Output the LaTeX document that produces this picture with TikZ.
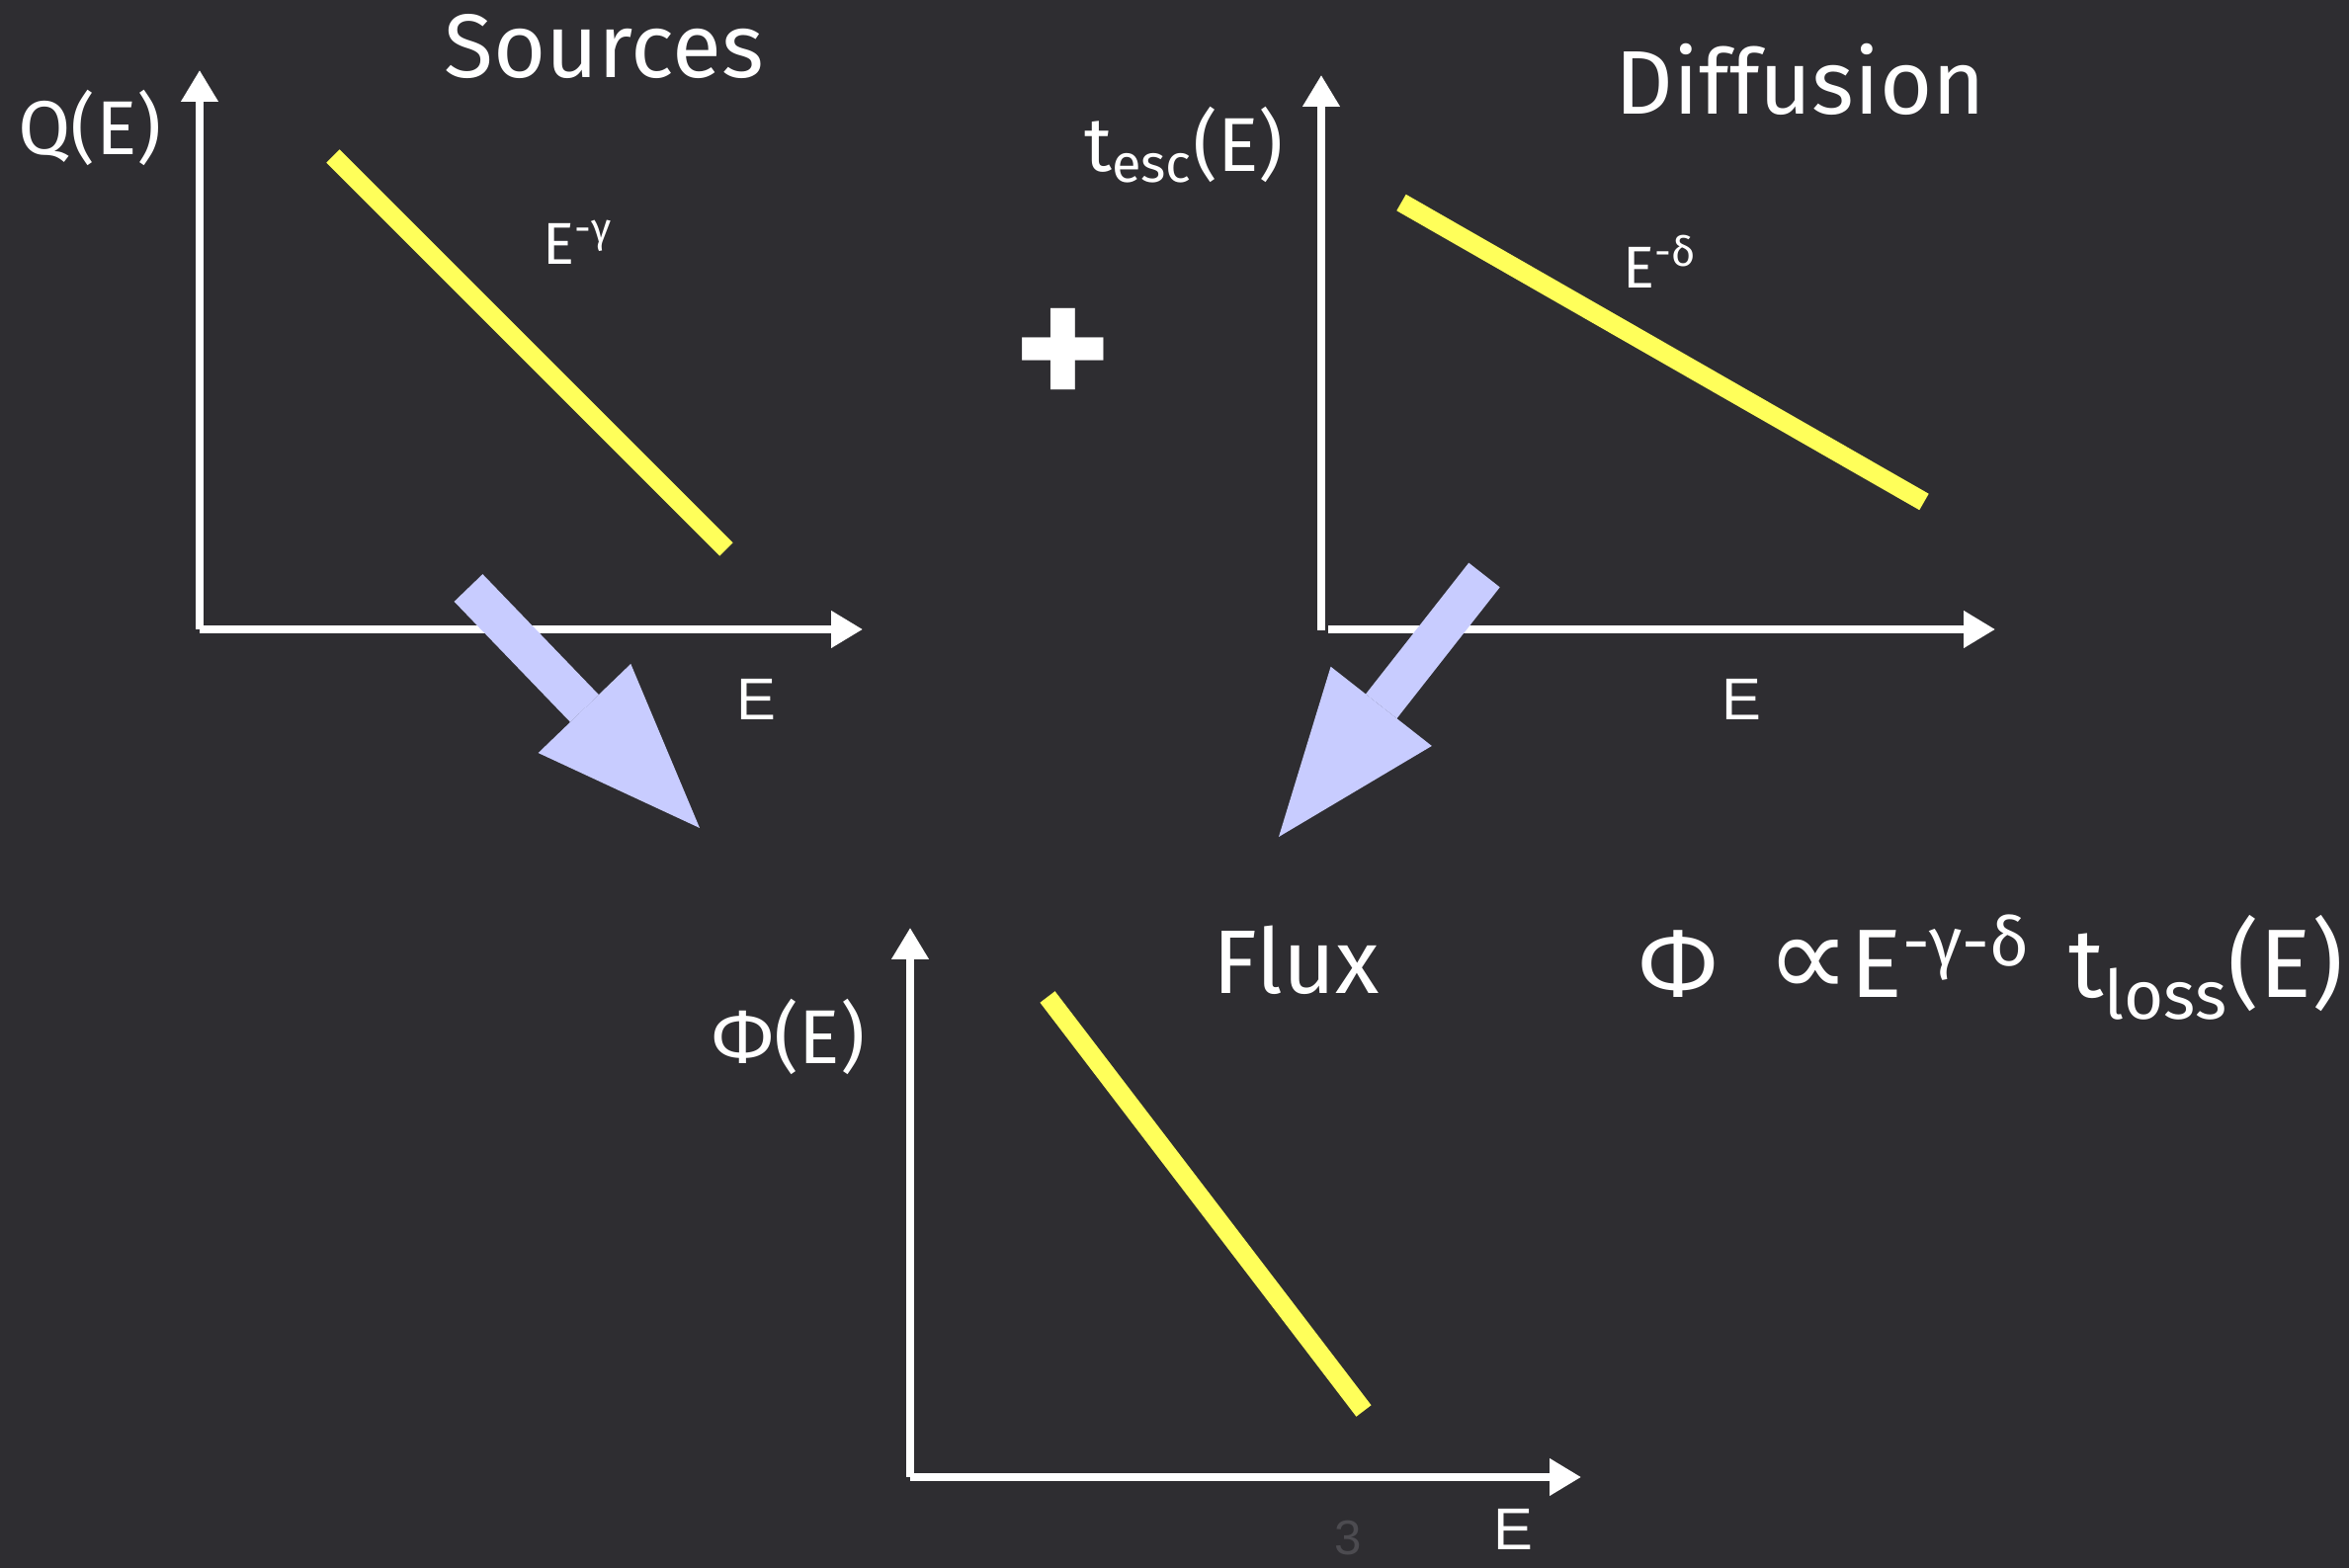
\documentclass[tikz,border=0pt]{standalone}
\usepackage{fontspec}
\usepackage{xcolor}
\usetikzlibrary{arrows.meta, positioning, calc}
\setsansfont{Liberation Sans}
\newfontfamily\chalkfont{Fira Sans}
\newfontfamily\symbfont{DejaVu Sans}
\definecolor{board}{HTML}{2E2D31}
\definecolor{chalkyellow}{HTML}{FFFF5A}
\definecolor{arrowblue}{HTML}{C8CCFF}
\definecolor{pagegray}{HTML}{4C4B50}

\begin{document}
\begin{tikzpicture}[
    axis/.style={draw=white, line width=0.075cm, -{Triangle[width=0.36cm, length=0.32cm]}},
    law/.style={draw=chalkyellow, line width=0.19cm},
    flow/.style={draw=arrowblue, line width=0.40cm, -{Triangle[width=1.30cm, length=1.68cm, line width=0pt]}},
    title/.style={text=white, font=\chalkfont\fontsize{26}{30}\selectfont},
    ylab/.style={text=white, font=\chalkfont\fontsize{22}{26}\selectfont},
    slope/.style={text=white, font=\chalkfont\fontsize{17}{20}\selectfont},
    xlab/.style={text=white, font=\sffamily\fontsize{17}{20}\selectfont},
]
    \fill[board] (0,0) rectangle (23.77,15.87);
    \useasboundingbox (0,0) rectangle (23.77,15.87);

    \coordinate (qo) at (2.02, 9.50);
    \coordinate (to) at (13.37, 9.50);
    \coordinate (fo) at (9.21, 0.92);

    \draw[axis] (qo) -- (2.02, 15.16);
    \draw[axis] (qo) -- (8.73, 9.50);
    \draw[law] (3.37, 14.29) -- (7.35, 10.31);
    \node[title] (sources) at (6.11, 15.40) {Sources};
    \node[ylab] (qlab) at (0.91, 14.58) {Q(E)};
    \node[slope] (gamma) at (5.85, 13.42) {E\textsuperscript{-γ}};
    \node[xlab] (qe) at (7.65, 8.79) {E};

    \node[title, font=\chalkfont\bfseries\fontsize{54}{54}\selectfont] (plus) at (10.76, 12.23) {+};

    \draw[axis] ($(to)+(0,-0.01)$) -- (13.37, 15.11);
    \draw[axis] ($(to)+(0.07,0)$) -- (20.19, 9.50);
    \draw[law] (14.18, 13.82) -- (19.47, 10.79);
    \node[title] (diffusion) at (18.22, 15.07) {Diffusion};
    \node[ylab] (tlab) at (11.98, 14.40) {t\textsubscript{esc}(E)};
    \node[slope] (delta) at (16.80, 13.22) {E\textsuperscript{-δ}};
    \node[xlab] (te) at (17.62, 8.79) {E};

    \draw[axis] (fo) -- (9.21, 6.48);
    \draw[axis] (fo) -- (16.00, 0.92);
    \draw[law] (10.60, 5.78) -- (13.80, 1.59);
    \node[title] (flux) at (13.12, 6.15) {Flux};
    \node[ylab] (philab) at (7.98, 5.38) {Φ(E)};
    \node[xlab] (fe) at (15.31, 0.39) {E};
    \node[ylab, font=\chalkfont\fontsize{28}{32}\selectfont, anchor=west, inner sep=0pt] (law) at (16.58, 6.08)
        {Φ\hspace{0.5em}{\symbfont\fontsize{34}{34}\selectfont ∝}E\textsuperscript{-γ-δ}\hspace{0.4em}t\textsubscript{loss}(E)};

    \node[font=\sffamily\fontsize{14}{16}\selectfont, text=pagegray, anchor=south, inner sep=0pt] (page) at (13.64, 0.12) {3};

    \coordinate (qout) at (4.74, 9.92);
    \coordinate (fin1) at (7.08, 7.49);
    \coordinate (tout) at (15.02, 10.05);
    \coordinate (fin2) at (12.94, 7.40);
    \draw[flow] (qout) -- (fin1);
    \draw[flow] (tout) -- (fin2);
\end{tikzpicture}
\end{document}
